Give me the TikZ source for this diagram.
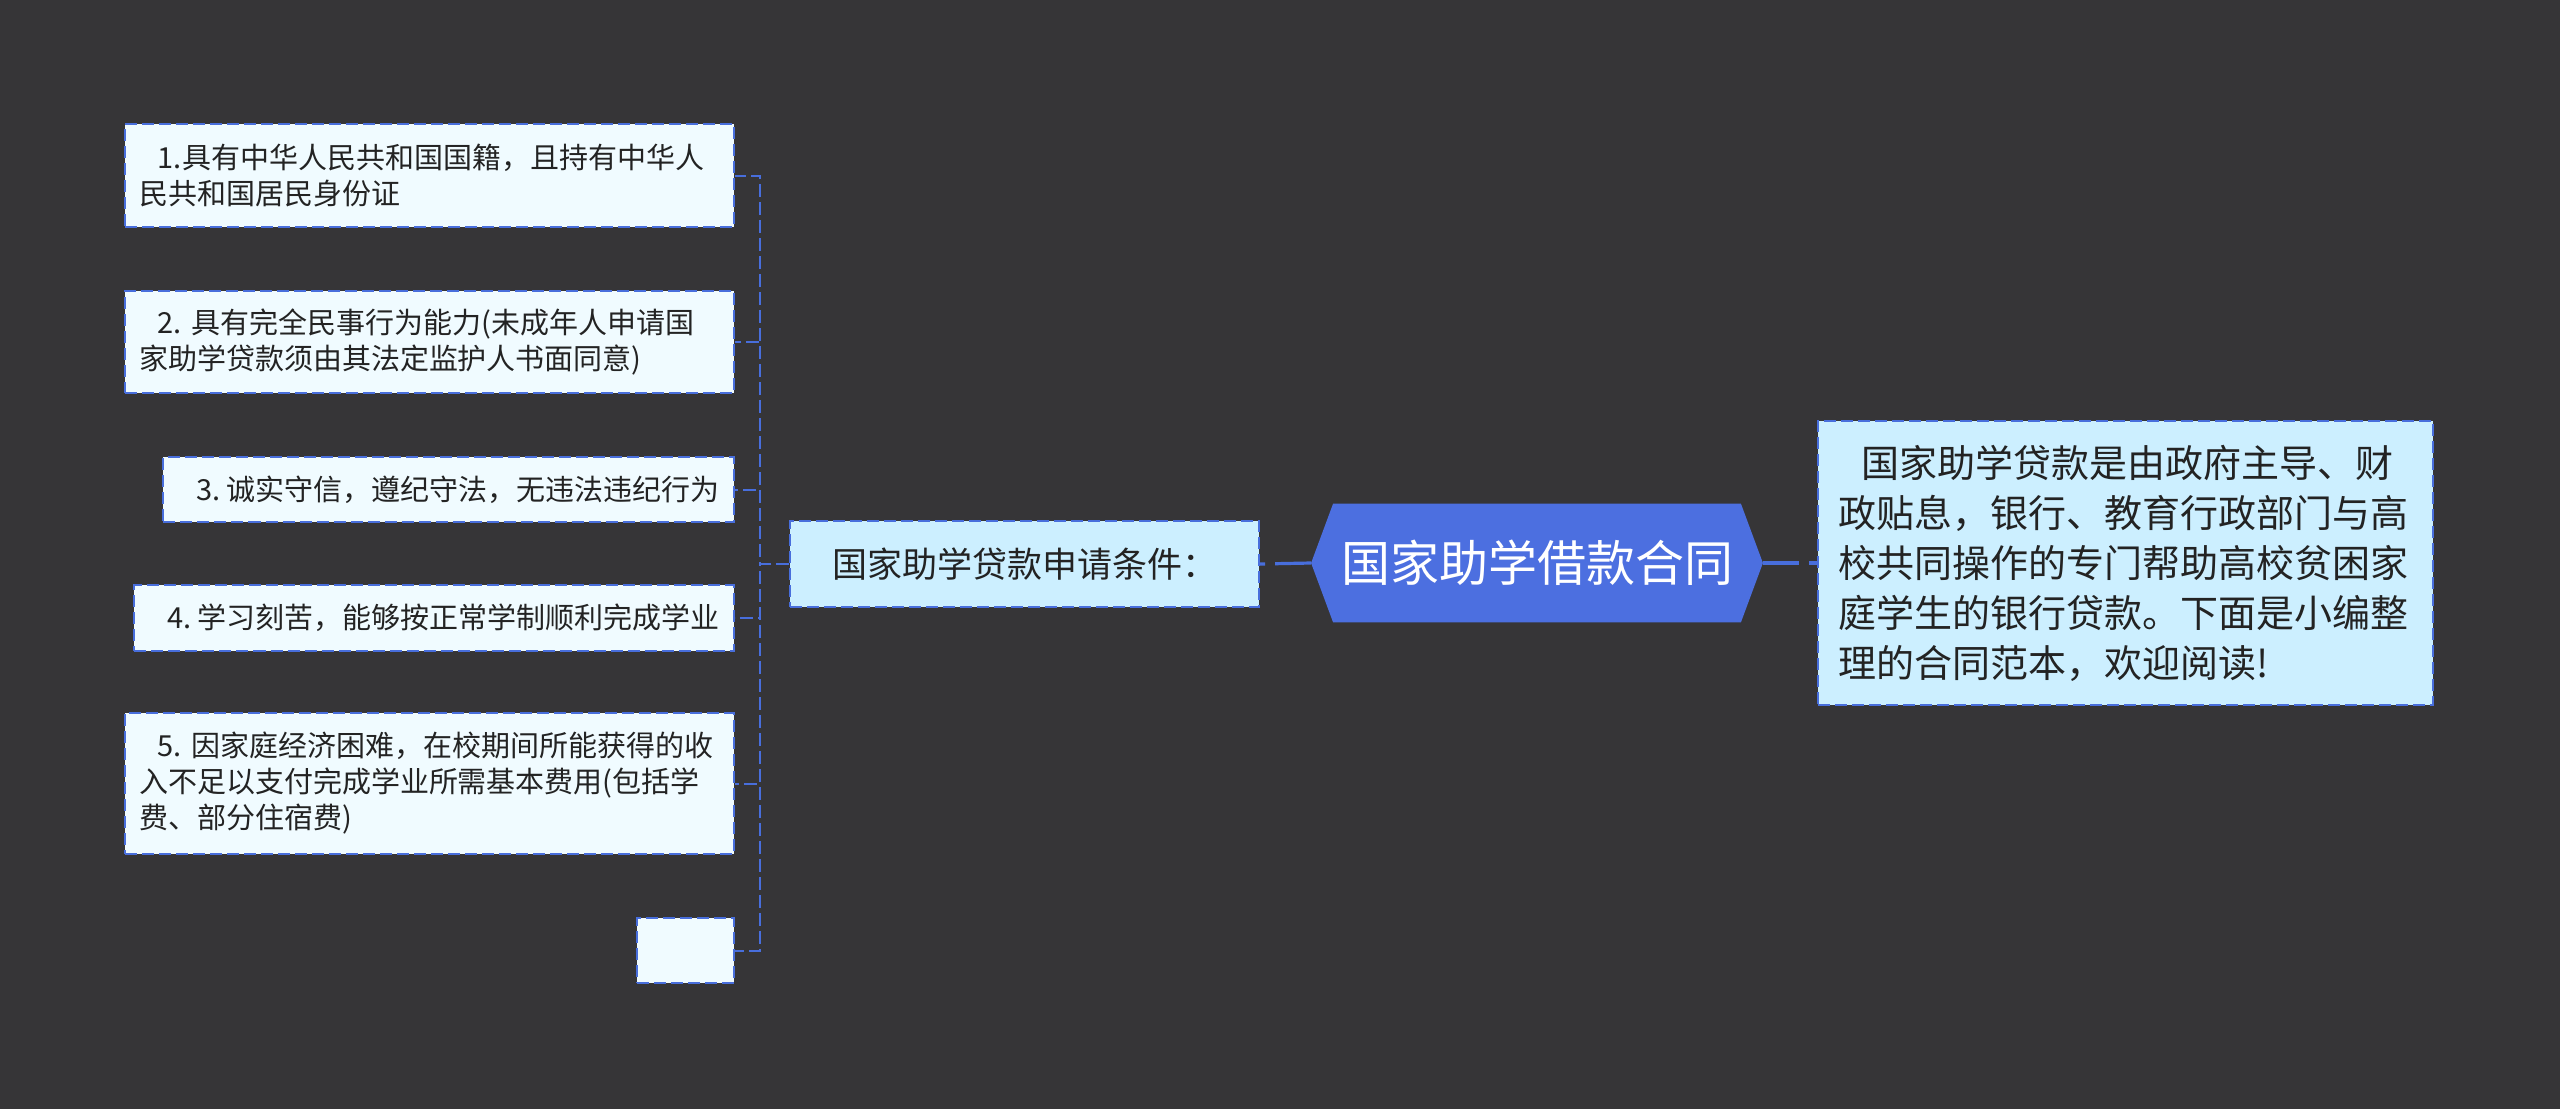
\documentclass[tikz,border=0pt]{standalone}
\usepackage{fontspec}
\setmainfont{Noto Sans CJK SC}
\usetikzlibrary{backgrounds}
\definecolor{bgc}{RGB}{54,53,55}
\definecolor{edgeblue}{RGB}{72,110,220}
\definecolor{leaffill}{RGB}{240,251,255}
\definecolor{midfill}{RGB}{204,239,255}
\definecolor{rootfill}{RGB}{76,111,224}
\definecolor{txt}{RGB}{35,35,35}
\begin{document}
\begin{tikzpicture}[x=0.5pt,y=-0.5pt,
  leaf/.style={draw=edgeblue, line width=1pt, dash pattern=on 6pt off 2.5pt, fill=leaffill,
    text=txt, anchor=east, inner xsep=7pt, inner ysep=0pt, align=left,
    font=\fontsize{14.5}{18}\selectfont},
  wideleaf/.style={leaf, text width=290.5pt},
  midnode/.style={draw=edgeblue, line width=1pt, dash pattern=on 6pt off 2.5pt, fill=midfill,
    text=txt, inner sep=0pt, minimum width=234.5pt, minimum height=43pt,
    font=\fontsize{17.5}{21}\selectfont},
  descnode/.style={draw=edgeblue, line width=1pt, dash pattern=on 6pt off 2.5pt, fill=midfill,
    text=txt, inner xsep=10pt, inner ysep=0pt, text width=287.5pt, minimum height=142pt,
    align=left, font=\fontsize{19}{25}\selectfont},
  rootnode/.style={text=white, inner sep=0pt, minimum width=203.5pt, minimum height=59pt,
    font=\fontsize{24.5}{28}\selectfont},
  edge/.style={draw=edgeblue, line width=1pt, dash pattern=on 6.5pt off 2.5pt},
  rootedge/.style={draw=edgeblue, line width=1.6pt, dash pattern=on 18pt off 5pt}
]
\begin{pgfonlayer}{background}
  \fill[bgc] (0,0) rectangle (2560,1109);
\end{pgfonlayer}
\useasboundingbox (0,0) rectangle (2560,1109);

% leaves
\node[wideleaf, minimum height=51.5pt] (l1) at (735,175.5)
  {\hspace*{0.65em}1.具有中华人民共和国国籍，且持有中华人\\民共和国居民身份证};
\node[wideleaf, minimum height=51pt] (l2) at (735,342)
  {\hspace*{0.65em}2.~具有完全民事行为能力(未成年人申请国\\家助学贷款须由其法定监护人书面同意)};
\node[leaf, minimum height=32.5pt] (l3) at (735,489.5)
  {\hspace*{0.65em}3.~诚实守信，遵纪守法，无违法违纪行为};
\node[leaf, minimum height=33pt] (l4) at (735,618)
  {\hspace*{0.65em}4.~学习刻苦，能够按正常学制顺利完成学业};
\node[wideleaf, minimum height=70.5pt] (l5) at (735,783.5)
  {\hspace*{0.65em}5.~因家庭经济困难，在校期间所能获得的收\\入不足以支付完成学业所需基本费用(包括学\\费、部分住宿费)};
\node[leaf, minimum width=48.5pt, minimum height=32.5pt] (l6) at (735,950.5) {};

% branch
\node[midnode] (branch) at (1024.5,564) {国家助学贷款申请条件：};

% root
\node[rootnode] (root) at (1537,563) {国家助学借款合同};
\coordinate (rootL) at ([xshift=-11pt]root.west);
\coordinate (rootR) at ([xshift=11pt]root.east);
\begin{pgfonlayer}{background}
  \fill[rootfill] (root.north west) -- (root.north east) -- (rootR) -- (root.south east)
    -- (root.south west) -- (rootL) -- cycle;
\end{pgfonlayer}

% description
\node[descnode] (desc) at (2125.5,563)
  {\hspace*{0.62em}国家助学贷款是由政府主导、财\\政贴息，银行、教育行政部门与高\\校共同操作的专门帮助高校贫困家\\庭学生的银行贷款。下面是小编整\\理的合同范本，欢迎阅读!};

% connectors
\draw[rootedge] (rootL) -- (branch.east);
\draw[rootedge] (rootR) -- (desc.west);
\foreach \n in {l1,l2,l3,l4,l5,l6}
  \draw[edge] (branch.west) -- ++(-29,0) |- (\n.east);
\end{tikzpicture}
\end{document}
